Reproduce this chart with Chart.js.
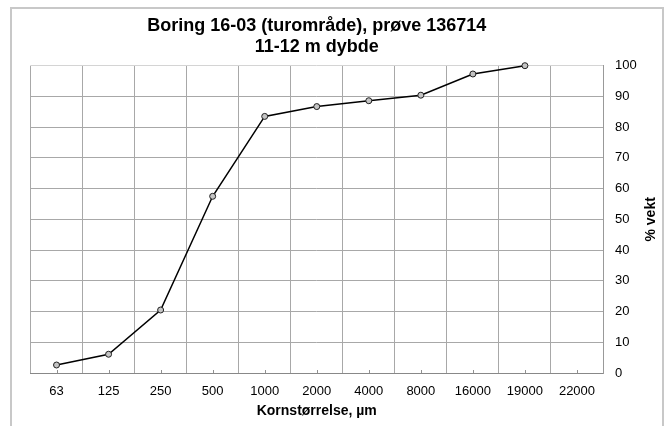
<!DOCTYPE html>
<html>
<head>
<meta charset="utf-8">
<script src="https://cdn.jsdelivr.net/npm/chart.js@4"></script>
<style>
  html, body { margin: 0; padding: 0; background: #fff; }
  #wrap { position: relative; width: 670px; height: 426px; overflow: hidden; }
  #frame { position: absolute; left: 10px; top: 7px; width: 650px; height: 440px; border: 2px solid #c8c8c8; }
  #chart { position: absolute; left: 0; top: 0; }
</style>
</head>
<body>
<div id="wrap">
  <div id="frame"></div>
  <canvas id="chart" width="670" height="426"></canvas>
</div>
<script>
document.addEventListener('DOMContentLoaded', function(){

    // grain sizes (µm) and cumulative % by weight
    const sizes = ['63', '125', '250', '500', '1000', '2000', '4000', '8000', '16000', '19000', '22000'];
    const percent = [2.6, 6.1, 20.5, 57.5, 83.5, 86.7, 88.6, 90.4, 97.3, 100, null];
    const yMin = 0, yMax = 100, yStep = 10;

    const titleLines = ['Boring 16-03 (turområde), prøve 136714', '11-12 m dybde'];
    const xTitle = 'Kornstørrelse, µm';
    const yTitle = '% vekt';

    const font = 'Liberation Sans';

    // small tick marks under each point + rotated right-hand axis title
    const extras = {
        id: 'extras',
        afterDatasetsDraw(chart) {
            const ctx = chart.ctx, x = chart.scales.x, area = chart.chartArea;
            ctx.save();
            ctx.strokeStyle = '#909090';
            ctx.lineWidth = 1;
            sizes.forEach(function(s, i){
                const px = Math.round(x.getPixelForValue(i)) + 0.5;
                ctx.beginPath();
                ctx.moveTo(px, area.bottom);
                ctx.lineTo(px, area.bottom - 3);
                ctx.stroke();
            });
            ctx.translate(651, (area.top + area.bottom) / 2);
            ctx.rotate(-Math.PI / 2);
            ctx.font = 'bold 14px "' + font + '"';
            ctx.fillStyle = '#000';
            ctx.textAlign = 'center';
            ctx.textBaseline = 'middle';
            ctx.fillText(yTitle, 0, 0);
            ctx.restore();
        }
    };

    new Chart(document.getElementById('chart').getContext('2d'), {
        type: 'line',
        data: {
            labels: sizes,
            datasets: [{
                data: percent,
                borderColor: '#000',
                borderWidth: 1.5,
                pointRadius: 3,
                pointBorderWidth: 1,
                pointBackgroundColor: '#c4c4c4',
                pointBorderColor: '#202020',
                tension: 0,
                fill: false,
                clip: false
            }]
        },
        options: {
            responsive: false,
            animation: false,
            devicePixelRatio: 1,
            layout: { padding: { left: 30.5, right: 0, top: 0, bottom: 0 } },
            plugins: {
                legend: { display: false },
                tooltip: { enabled: false },
                title: {
                    display: true,
                    text: titleLines,
                    fullSize: false,
                    color: '#000',
                    font: { family: font, size: 18, weight: 'bold', lineHeight: 1.15 },
                    padding: { top: 16, bottom: 8.3 }
                }
            },
            scales: {
                x: {
                    offset: true,
                    grid: { offset: true, color: '#a8a8a8', drawTicks: false },
                    border: { color: '#888' },
                    ticks: { color: '#000', padding: 11, maxRotation: 0, autoSkip: false,
                             font: { family: font, size: 13 } },
                    title: { display: true, text: xTitle, color: '#000',
                             font: { family: font, size: 14, weight: 'bold' },
                             padding: { top: 0, bottom: 6.6 } },
                    afterFit: function(scale){ scale.height = 53; }
                },
                y: {
                    position: 'right',
                    min: yMin,
                    max: yMax,
                    grid: {
                        drawTicks: false,
                        color: function(c){ return c.tick && c.tick.value === yMax ? '#d4d4d4' : '#a8a8a8'; }
                    },
                    border: { color: '#999' },
                    ticks: { stepSize: yStep, color: '#000', padding: 12,
                             font: { family: font, size: 13 } },
                    afterFit: function(scale){ scale.width = 67; }
                }
            }
        },
        plugins: [extras]
    });
});
</script>
</body>
</html>
